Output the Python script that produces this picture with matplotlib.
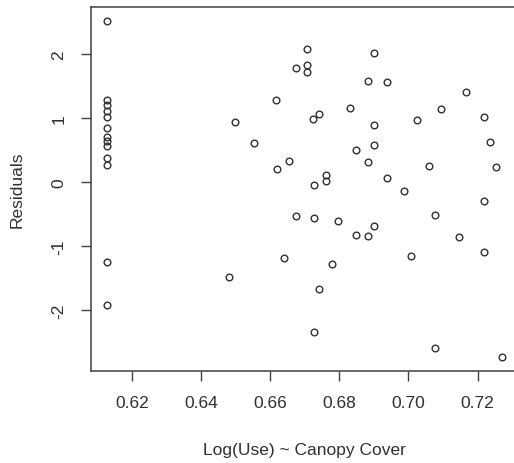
import numpy as np
import matplotlib
matplotlib.use('Agg')
import matplotlib.pyplot as plt

plt.rcParams['font.family'] = ['Liberation Sans', 'DejaVu Sans']

# 잔차 데이터
x_vals = [0.6127] * 13 + [
    0.6480, 0.6497, 0.6552, 0.6618, 0.6619, 0.6639, 0.6656, 0.6674, 0.6674,
    0.6707, 0.6707, 0.6707, 0.6725, 0.6742, 0.6726, 0.6726, 0.6726, 0.6742,
    0.6763, 0.6763, 0.6778, 0.6797, 0.6830, 0.6849, 0.6849, 0.6884, 0.6884,
    0.6884, 0.6901, 0.6901, 0.6901, 0.6901, 0.6937, 0.6937, 0.6988, 0.7008,
    0.7024, 0.7060, 0.7076, 0.7076, 0.7095, 0.7147, 0.7166, 0.7219, 0.7219,
    0.7219, 0.7235, 0.7254, 0.7271]
residuals = [
    2.527, 1.290, 1.211, 1.112, 1.018, 0.841, 0.710, 0.637, 0.569, 0.376,
    0.261, -1.253, -1.932,
    -1.493, 0.945, 0.616, 1.279, 0.209, -1.191, 0.334, 1.791, -0.527,
    2.089, 1.828, 1.723, 0.982, 1.070, -0.052, -0.564, -2.355, -1.671,
    0.104, 0.016, -1.285, -0.616, 1.159, 0.507, -0.830, 1.582, 0.313,
    -0.846, 2.021, 0.898, 0.574, -0.689, 1.567, 0.068, -0.141, -1.159,
    0.966, 0.245, -0.512, -2.601, 1.144, -0.862, 1.405, 1.018, -0.298,
    -1.091, 0.632, 0.230, -2.742]
x_ticks = [0.62, 0.64, 0.66, 0.68, 0.70, 0.72]
y_ticks = [-2, -1, 0, 1, 2]

fig = plt.figure(figsize=(5.14, 4.64), dpi=100)
ax = fig.add_axes([0.1765, 0.199, 0.8313, 0.7832])

ax.plot(x_vals, residuals, 'o', markersize=4.8, markerfacecolor='none',
        markeredgecolor='#303030', markeredgewidth=1.0)

# R 기본 plot처럼 4% 여백
xr = max(x_vals) - min(x_vals)
yr = max(residuals) - min(residuals)
ax.set_xlim(min(x_vals) - 0.04 * xr, max(x_vals) + 0.04 * xr)
ax.set_ylim(min(residuals) - 0.04 * yr, max(residuals) + 0.04 * yr)

ax.set_xticks(x_ticks)
ax.set_xticklabels(['%.2f' % v for v in x_ticks])
ax.set_yticks(y_ticks)
ax.set_yticklabels([str(v) for v in y_ticks], rotation=90, va='center')

ax.tick_params(direction='out', length=7.5, width=1.0, colors='#404040',
               labelsize=12.5, pad=10)
ax.tick_params(axis='x', labelcolor='#303030')
ax.tick_params(axis='y', labelcolor='#303030')
for s in ax.spines.values():
    s.set_color('#404040')
    s.set_linewidth(1.1)

ax.set_xlabel('Log(Use) ~ Canopy Cover', fontsize=12.5, color='#303030', labelpad=23)
ax.set_ylabel('Residuals', fontsize=12.5, color='#303030', labelpad=19)

fig.savefig('out.png', dpi=100)
